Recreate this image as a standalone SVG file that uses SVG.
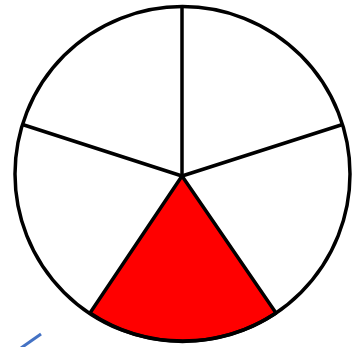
<svg xmlns="http://www.w3.org/2000/svg" width="356" height="347" viewBox="0 0 356 347">
<style>
.ln{stroke:#000;stroke-width:3.5;fill:none;stroke-linecap:round}
</style>
<rect width="356" height="347" fill="#fff"/>
<g id="sector-red">
<path d="M182,176 L90,313 A168,168 0 0,0 276,313 Z" fill="#ff0000" stroke="#000" stroke-width="3.5" stroke-linejoin="round"/>
</g>
<g id="circle">
<circle cx="182.5" cy="174" r="167.5" class="ln"/>
</g>
<g id="spokes">
<line x1="182" y1="176" x2="182" y2="7" class="ln"/>
<line x1="182" y1="176" x2="24" y2="125" class="ln"/>
<line x1="182" y1="176" x2="341" y2="125" class="ln"/>
</g>
<g id="mark">
<line x1="21" y1="348" x2="41" y2="334" stroke="#4472c4" stroke-width="3"/>
</g>
</svg>
